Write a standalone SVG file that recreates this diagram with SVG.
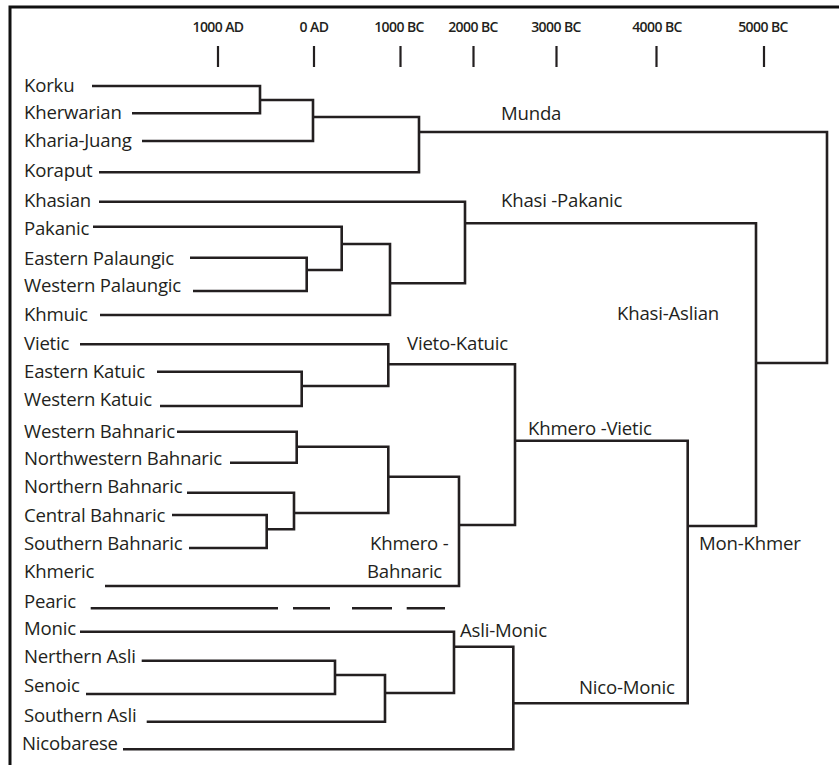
<svg xmlns="http://www.w3.org/2000/svg" width="839" height="765" viewBox="0 0 839 765">
<style>
.lbl{font-family:"Open Sans","Noto Sans",sans-serif;font-size:18.6px;font-weight:500;fill:#231f20;letter-spacing:-0.2px}
.ax{font-family:"Open Sans","Noto Sans",sans-serif;font-size:14px;font-weight:600;fill:#231f20;text-anchor:middle;letter-spacing:-0.6px}
.ln{fill:none;stroke:#231f20;stroke-width:2.6;stroke-linejoin:miter;stroke-linecap:butt}
.tk{stroke:#231f20;stroke-width:2.2}
</style>
<rect width="839" height="765" fill="#ffffff"/>
<path d="M10,765 V7 H839" fill="none" stroke="#111" stroke-width="3"/>
<g id="axis">
<text class="ax" x="218" y="32">1000 AD</text>
<text class="ax" x="314" y="32">0 AD</text>
<text class="ax" x="399" y="32">1000 BC</text>
<text class="ax" x="473" y="32">2000 BC</text>
<text class="ax" x="556" y="32">3000 BC</text>
<text class="ax" x="657" y="32">4000 BC</text>
<text class="ax" x="763" y="32">5000 BC</text>
<path class="tk" d="M218,46V67M314,46V67M400.5,46V67M473.5,46V67M556.5,46V67M656.5,46V67M764,46V67"/>
</g>
<g id="connectors" class="ln">
<path class="ln" d="M92,86H260V113.3H132"/>
<path class="ln" d="M260,100H313V141H142"/>
<path class="ln" d="M313,117H419V172.3H99"/>
<path class="ln" d="M419,132H827V363H756"/>
<path class="ln" d="M99,201.7H465V283.3H390"/>
<path class="ln" d="M93,226.7H341.7V270H306.7"/>
<path class="ln" d="M190,257.7H306.7V291H193"/>
<path class="ln" d="M341.7,244H390V315H100"/>
<path class="ln" d="M465,223.3H756V526H687.7"/>
<path class="ln" d="M80,344.3H388.3V386H301.7"/>
<path class="ln" d="M157,371.7H301.7V406H160"/>
<path class="ln" d="M388.3,364.3H515V525H459"/>
<path class="ln" d="M177,431.7H296.7V462.7H230"/>
<path class="ln" d="M187,492.7H294V529.3H266.7"/>
<path class="ln" d="M172,515H266.7V548H189"/>
<path class="ln" d="M294,513H388.3V446.7H296.7"/>
<path class="ln" d="M388.3,476.7H459V586H105"/>
<path class="ln" d="M515,440.7H687.7V703.3H513.3"/>
<path class="ln" d="M90.7,608.3H278M293,608.3H330M352,608.3H392M406.7,608.3H445"/>
<path class="ln" d="M80,631.7H454V693H385"/>
<path class="ln" d="M141.7,660.7H335V694H86"/>
<path class="ln" d="M335,675H385V721.7H146.7"/>
<path class="ln" d="M454,646.7H513.3V749.3H123"/>
</g>
<g id="n-korku"><text class="lbl" x="24" y="91.5">Korku</text></g>
<g id="n-kherwarian"><text class="lbl" x="24" y="119">Kherwarian</text></g>
<g id="n-kharia-juang"><text class="lbl" x="24" y="146.5">Kharia-Juang</text></g>
<g id="n-koraput"><text class="lbl" x="24" y="176.5">Koraput</text></g>
<g id="n-khasian"><text class="lbl" x="24" y="206.5">Khasian</text></g>
<g id="n-pakanic"><text class="lbl" x="24" y="235">Pakanic</text></g>
<g id="n-eastern-palaungic"><text class="lbl" x="24" y="265">Eastern Palaungic</text></g>
<g id="n-western-palaungic"><text class="lbl" x="24" y="291.5">Western Palaungic</text></g>
<g id="n-khmuic"><text class="lbl" x="24" y="320.5">Khmuic</text></g>
<g id="n-vietic"><text class="lbl" x="24" y="350">Vietic</text></g>
<g id="n-eastern-katuic"><text class="lbl" x="24" y="378">Eastern Katuic</text></g>
<g id="n-western-katuic"><text class="lbl" x="24" y="406">Western Katuic</text></g>
<g id="n-western-bahnaric"><text class="lbl" x="24" y="438">Western Bahnaric</text></g>
<g id="n-northwestern-bahnaric"><text class="lbl" x="24" y="465">Northwestern Bahnaric</text></g>
<g id="n-northern-bahnaric"><text class="lbl" x="24" y="493">Northern Bahnaric</text></g>
<g id="n-central-bahnaric"><text class="lbl" x="24" y="521.5">Central Bahnaric</text></g>
<g id="n-southern-bahnaric"><text class="lbl" x="24" y="550">Southern Bahnaric</text></g>
<g id="n-khmeric"><text class="lbl" x="24" y="578">Khmeric</text></g>
<g id="n-pearic"><text class="lbl" x="24" y="608">Pearic</text></g>
<g id="n-monic"><text class="lbl" x="24" y="635">Monic</text></g>
<g id="n-nerthern-asli"><text class="lbl" x="24" y="663">Nerthern Asli</text></g>
<g id="n-senoic"><text class="lbl" x="24" y="691.5">Senoic</text></g>
<g id="n-southern-asli"><text class="lbl" x="24" y="721.5">Southern Asli</text></g>
<g id="n-nicobarese"><text class="lbl" x="22" y="750">Nicobarese</text></g>
<g id="g-munda"><text class="lbl" x="501" y="120">Munda</text></g>
<g id="g-khasi-pakanic"><text class="lbl" x="501" y="206.5">Khasi -Pakanic</text></g>
<g id="g-khasi-aslian"><text class="lbl" x="617" y="320">Khasi-Aslian</text></g>
<g id="g-vieto-katuic"><text class="lbl" x="407" y="349.5">Vieto-Katuic</text></g>
<g id="g-khmero-vietic"><text class="lbl" x="528" y="435">Khmero -Vietic</text></g>
<g id="g-khmero-bahnaric"><text class="lbl" x="370" y="550">Khmero -</text><text class="lbl" x="367" y="578">Bahnaric</text></g>
<g id="g-mon-khmer"><text class="lbl" x="699" y="550">Mon-Khmer</text></g>
<g id="g-asli-monic"><text class="lbl" x="460" y="636.5">Asli-Monic</text></g>
<g id="g-nico-monic"><text class="lbl" x="579" y="694">Nico-Monic</text></g>
</svg>
